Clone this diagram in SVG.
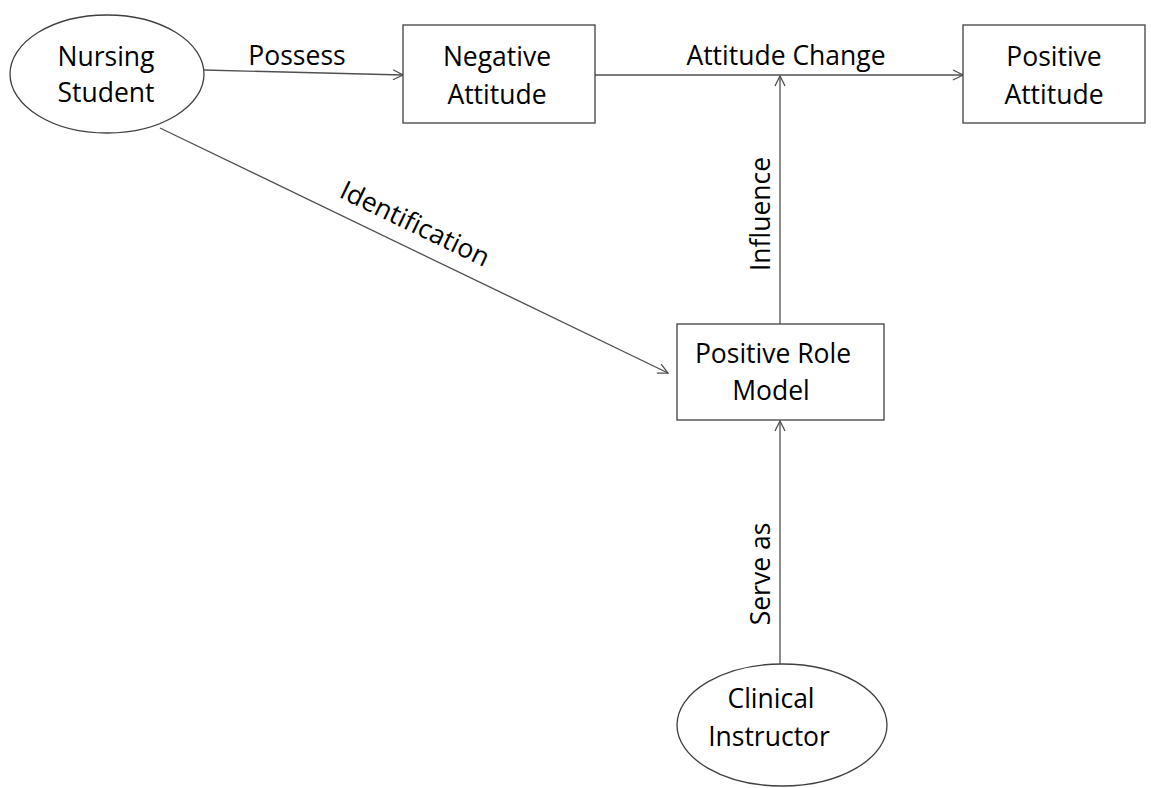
<svg xmlns="http://www.w3.org/2000/svg" width="1151" height="788" viewBox="0 0 1151 788">
<style>
.n{fill:#fff;stroke:#404040;stroke-width:1.3}
.t{font-family:"Open Sans","Liberation Sans",sans-serif;font-size:26.5px;fill:#000;text-anchor:middle}
.c{fill:none;stroke:#505050;stroke-width:1.3}
</style>
<defs>
<marker id="a" viewBox="0 0 12 12" refX="11" refY="6" markerWidth="12" markerHeight="12" markerUnits="userSpaceOnUse" orient="auto">
<path d="M1,1 L11,6 L1,11" fill="none" stroke="#505050" stroke-width="1.3"/>
</marker>
</defs>
<rect width="1151" height="788" fill="#fff"/>
<g id="connectors">
<path class="c" d="M204,70 L403,75" marker-end="url(#a)"/>
<path class="c" d="M595,75 L963,75" marker-end="url(#a)"/>
<path class="c" d="M780,324 L780,76" marker-end="url(#a)"/>
<path class="c" d="M780,664 L780,421" marker-end="url(#a)"/>
<path class="c" d="M160,128 L668,373" marker-end="url(#a)"/>
<text class="t" x="297" y="65">Possess</text>
<text class="t" x="786" y="65">Attitude Change</text>
<text class="t" transform="translate(770,214) rotate(-90)">Influence</text>
<text class="t" transform="translate(770,574) rotate(-90)">Serve as</text>
<text class="t" transform="translate(411,232) rotate(25.7)">Identification</text>
</g>
<g id="nursing-student">
<ellipse class="n" cx="107" cy="74" rx="97" ry="59"/>
<text class="t" x="106" y="66">Nursing</text>
<text class="t" x="106" y="102">Student</text>
</g>
<g id="negative-attitude">
<rect class="n" x="403" y="25" width="192" height="98"/>
<text class="t" x="497" y="66">Negative</text>
<text class="t" x="497" y="104">Attitude</text>
</g>
<g id="positive-attitude">
<rect class="n" x="963" y="25" width="182" height="98"/>
<text class="t" x="1054" y="66">Positive</text>
<text class="t" x="1054" y="104">Attitude</text>
</g>
<g id="positive-role-model">
<rect class="n" x="677" y="324" width="207" height="96"/>
<text class="t" x="773" y="363">Positive Role</text>
<text class="t" x="771" y="400">Model</text>
</g>
<g id="clinical-instructor">
<ellipse class="n" cx="782" cy="725" rx="105" ry="61"/>
<text class="t" x="771" y="708">Clinical</text>
<text class="t" x="769" y="746">Instructor</text>
</g>
</svg>
